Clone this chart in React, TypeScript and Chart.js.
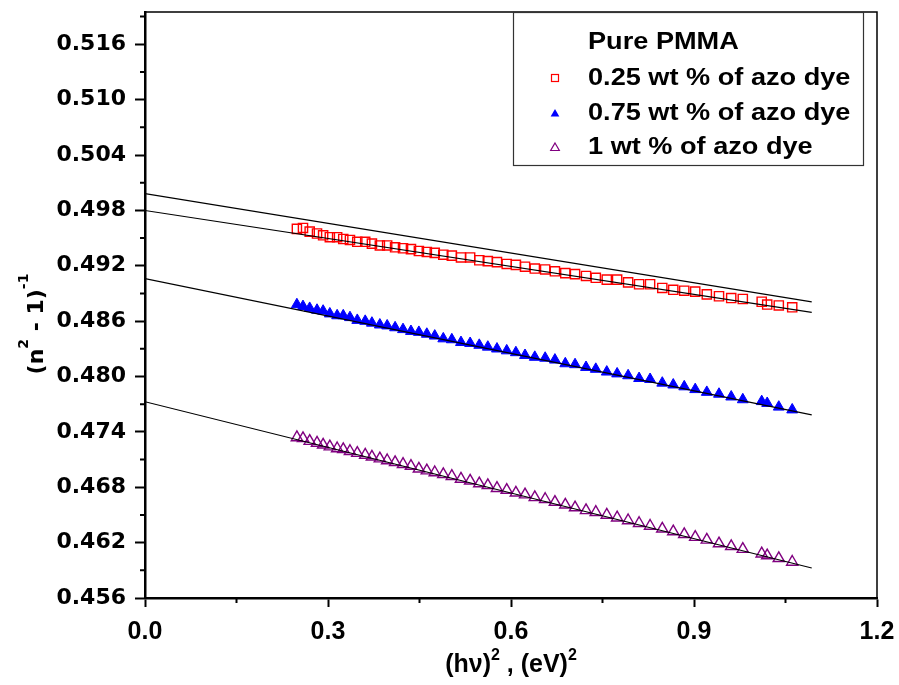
import { useEffect, useRef } from "react";
import { Chart, registerables } from "chart.js";

Chart.register(...registerables);

// Photon energy squared, (hv)^2 in eV^2 (shared by all samples)
const X_VALUES = [
  0.249, 0.259, 0.270, 0.282, 0.292, 0.303, 0.315, 0.325, 0.336, 0.348,
  0.361, 0.372, 0.385, 0.397, 0.410, 0.423, 0.436, 0.449, 0.462, 0.475,
  0.489, 0.503, 0.518, 0.533, 0.548, 0.562, 0.577, 0.593, 0.608, 0.623,
  0.639, 0.656, 0.672, 0.689, 0.705, 0.723, 0.739, 0.757, 0.774, 0.792,
  0.810, 0.828, 0.848, 0.866, 0.884, 0.902, 0.921, 0.941, 0.961, 0.980,
  1.011, 1.020, 1.039, 1.061,
];

const Y_025 = [
  0.4960, 0.4961, 0.4957, 0.4955, 0.4953, 0.4951, 0.4951, 0.4949, 0.4948, 0.4946,
  0.4946, 0.4944, 0.4942, 0.4942, 0.4940, 0.4939, 0.4938, 0.4936, 0.4935, 0.4934,
  0.4932, 0.4931, 0.4929, 0.4929, 0.4926, 0.4925, 0.4924, 0.4922, 0.4921, 0.4919,
  0.4917, 0.4916, 0.4914, 0.4912, 0.4911, 0.4909, 0.4907, 0.4905, 0.4905, 0.4902,
  0.4900, 0.4900, 0.4896, 0.4894, 0.4893, 0.4892, 0.4889, 0.4887, 0.4885, 0.4884,
  0.4881, 0.4878, 0.4877, 0.4875,
];

const Y_075 = [
  0.4878, 0.4876, 0.4874, 0.4872, 0.4871, 0.4868, 0.4866, 0.4866, 0.4864, 0.4861,
  0.4860, 0.4858, 0.4856, 0.4855, 0.4853, 0.4851, 0.4849, 0.4848, 0.4846, 0.4844,
  0.4841, 0.4840, 0.4837, 0.4836, 0.4834, 0.4832, 0.4830, 0.4828, 0.4826, 0.4823,
  0.4821, 0.4820, 0.4818, 0.4814, 0.4813, 0.4810, 0.4808, 0.4805, 0.4803, 0.4801,
  0.4798, 0.4797, 0.4793, 0.4791, 0.4789, 0.4786, 0.4783, 0.4781, 0.4778, 0.4775,
  0.4773, 0.4771, 0.4767, 0.4764,
];

const Y_1 = [
  0.4734, 0.4733, 0.4730, 0.4728, 0.4726, 0.4724, 0.4722, 0.4721, 0.4719, 0.4717,
  0.4715, 0.4713, 0.4711, 0.4709, 0.4707, 0.4705, 0.4703, 0.4700, 0.4698, 0.4696,
  0.4694, 0.4692, 0.4689, 0.4687, 0.4684, 0.4682, 0.4679, 0.4677, 0.4674, 0.4672,
  0.4669, 0.4667, 0.4664, 0.4661, 0.4658, 0.4655, 0.4653, 0.4650, 0.4647, 0.4644,
  0.4641, 0.4638, 0.4635, 0.4632, 0.4629, 0.4626, 0.4623, 0.4619, 0.4616, 0.4613,
  0.4608, 0.4606, 0.4603, 0.4599,
];

// Linear fits (end points)
const FIT_X = [0, 1.093];
const FIT_PURE = [0.49983, 0.48808];
const FIT_025 = [0.49799, 0.48695];
const FIT_075 = [0.49061, 0.47585];
const FIT_1 = [0.47727, 0.45925];

const X_TICKS = [0, 0.3, 0.6, 0.9, 1.2];
const X_TICK_LABELS = ["0.0", "0.3", "0.6", "0.9", "1.2"];
const X_MINOR = [0.15, 0.45, 0.75, 1.05];
const Y_TICKS = [0.456, 0.462, 0.468, 0.474, 0.48, 0.486, 0.492, 0.498, 0.504, 0.51, 0.516];
const Y_TICK_LABELS = ["0.456", "0.462", "0.468", "0.474", "0.480", "0.486", "0.492", "0.498", "0.504", "0.510", "0.516"];
const Y_MINOR = [0.459, 0.465, 0.471, 0.477, 0.483, 0.489, 0.495, 0.501, 0.507, 0.513, 0.519];

const LEGEND_LABELS = ["Pure PMMA", "0.25 wt % of azo dye", "0.75 wt % of azo dye", "1 wt % of azo dye"];
const X_TITLE = [{ t: "(h\u03BD)" }, { t: "2", sup: true }, { t: " , (eV)" }, { t: "2", sup: true }];
const Y_TITLE = [{ t: "(n" }, { t: "2", sup: true }, { t: " - 1)" }, { t: "-1", sup: true }];

const RED = "#FF0000";
const BLUE = "#0000FF";
const PURPLE = "#800080";

function drawRich(ctx: CanvasRenderingContext2D, parts: { t: string; sup?: boolean }[], cx: number, baseY: number, size: number, family: string, supRaise: number) {
  const mainFont = `bold ${size}px ${family}`;
  const supFont = `bold ${Math.round(size * 0.62)}px ${family}`;
  let total = 0;
  for (const p of parts) {
    ctx.font = p.sup ? supFont : mainFont;
    total += ctx.measureText(p.t).width;
  }
  let x = cx - total / 2;
  ctx.textAlign = "left";
  ctx.textBaseline = "alphabetic";
  for (const p of parts) {
    ctx.font = p.sup ? supFont : mainFont;
    ctx.fillText(p.t, x, p.sup ? baseY - supRaise : baseY);
    x += ctx.measureText(p.t).width;
  }
}

function triangle(ctx: CanvasRenderingContext2D, x: number, y: number, r: number) {
  const h = r * Math.sin(Math.PI / 3);
  ctx.beginPath();
  ctx.moveTo(x, y - r);
  ctx.lineTo(x + h, y + r / 2);
  ctx.lineTo(x - h, y + r / 2);
  ctx.closePath();
}

const decorPlugin = {
  id: "decor",
  afterDraw(chart: any) {
    const { ctx, chartArea: a, scales } = chart;
    const xs = scales.x;
    const ys = scales.y;
    ctx.save();
    ctx.strokeStyle = "#000";
    ctx.fillStyle = "#000";
    // top / right frame
    ctx.lineWidth = 1.5;
    ctx.beginPath();
    ctx.moveTo(a.left, a.top);
    ctx.lineTo(a.right, a.top);
    ctx.lineTo(a.right, a.bottom);
    ctx.stroke();
    // minor ticks
    ctx.lineWidth = 2;
    ctx.beginPath();
    for (const v of X_MINOR) {
      const px = xs.getPixelForValue(v);
      ctx.moveTo(px, a.bottom);
      ctx.lineTo(px, a.bottom + 5);
    }
    for (const v of Y_MINOR) {
      const py = ys.getPixelForValue(v);
      ctx.moveTo(a.left, py);
      ctx.lineTo(a.left - 5, py);
    }
    ctx.stroke();

    // axis titles
    drawRich(ctx, X_TITLE, (a.left + a.right) / 2, 672, 25, "'Liberation Sans', Arial, sans-serif", 12);
    ctx.save();
    ctx.translate(43, 324);
    ctx.rotate(-Math.PI / 2);
    drawRich(ctx, Y_TITLE, 0, 0, 22, "'DejaVu Sans', sans-serif", 15);
    ctx.restore();

    // legend
    ctx.lineWidth = 1.2;
    ctx.strokeStyle = "#333";
    ctx.strokeRect(513.5, 12.5, 350, 153);
    const rowsY = [42, 78, 113, 147];
    ctx.textAlign = "left";
    ctx.textBaseline = "middle";
    ctx.font = "bold 23px 'Liberation Sans', Arial, sans-serif";
    for (let i = 0; i < LEGEND_LABELS.length; i++) {
      ctx.save();
      ctx.translate(588, rowsY[i] + 1);
      ctx.scale(1.18, 1);
      ctx.fillStyle = "#000";
      ctx.fillText(LEGEND_LABELS[i], 0, 0);
      ctx.restore();
    }
    const mx = 555;
    ctx.lineWidth = 1.2;
    ctx.strokeStyle = RED;
    ctx.strokeRect(mx - 3.5, rowsY[1] - 3.5, 7, 7);
    ctx.fillStyle = BLUE;
    triangle(ctx, mx, rowsY[2] + 1, 5);
    ctx.fill();
    ctx.strokeStyle = PURPLE;
    triangle(ctx, mx, rowsY[3] + 1, 5);
    ctx.stroke();
    ctx.restore();
  },
};

function pts(xs: number[], ys: number[]) {
  return xs.map((x, i) => ({ x, y: ys[i] }));
}

export default function App() {
  const ref = useRef<HTMLCanvasElement | null>(null);
  useEffect(() => {
    document.body.style.margin = "0";
    const canvas = ref.current;
    if (!canvas) return;
    const fitStyle = {
      showLine: true,
      pointRadius: 0,
      borderColor: "#000",
      borderWidth: 1.2,
      backgroundColor: "#000",
    };
    const chart = new Chart(canvas, {
      type: "scatter",
      data: {
        datasets: [
          { label: "Pure PMMA", data: pts(FIT_X, FIT_PURE), ...fitStyle },
          { label: "fit 0.25", data: pts(FIT_X, FIT_025), ...fitStyle },
          { label: "fit 0.75", data: pts(FIT_X, FIT_075), ...fitStyle },
          { label: "fit 1", data: pts(FIT_X, FIT_1), ...fitStyle },
          {
            label: LEGEND_LABELS[1],
            data: pts(X_VALUES, Y_025),
            pointStyle: "rect",
            pointRadius: 6.5,
            borderColor: RED,
            backgroundColor: "rgba(0,0,0,0)",
            borderWidth: 1.4,
          },
          {
            label: LEGEND_LABELS[2],
            data: pts(X_VALUES, Y_075),
            pointStyle: "triangle",
            pointRadius: 6.3,
            borderColor: BLUE,
            backgroundColor: BLUE,
            borderWidth: 1,
          },
          {
            label: LEGEND_LABELS[3],
            data: pts(X_VALUES, Y_1),
            pointStyle: "triangle",
            pointRadius: 6.5,
            borderColor: PURPLE,
            backgroundColor: "rgba(0,0,0,0)",
            borderWidth: 1.4,
          },
        ],
      },
      options: {
        responsive: false,
        animation: false,
        devicePixelRatio: 1,
        events: [],
        layout: { padding: { top: 12, right: 22, left: 0, bottom: 0 } },
        plugins: { legend: { display: false }, tooltip: { enabled: false } },
        scales: {
          x: {
            type: "linear",
            min: 0,
            max: 1.2,
            afterBuildTicks: (s: any) => {
              s.ticks = X_TICKS.map((value) => ({ value }));
            },
            afterFit: (s: any) => {
              s.height = 87;
              s.paddingLeft = 0;
              s.paddingRight = 0;
            },
            ticks: {
              autoSkip: false,
              maxRotation: 0,
              padding: 10,
              color: "#000",
              font: { family: "'Liberation Sans', Arial, sans-serif", size: 25, weight: "bold" },
              callback: (_v: any, i: number) => X_TICK_LABELS[i],
            },
            grid: { drawOnChartArea: false, drawTicks: true, tickLength: 9, tickWidth: 2, tickColor: "#000" },
            border: { display: true, color: "#000", width: 2.5 },
          },
          y: {
            type: "linear",
            min: 0.456,
            max: 0.5195,
            afterBuildTicks: (s: any) => {
              s.ticks = Y_TICKS.map((value) => ({ value }));
            },
            afterFit: (s: any) => {
              s.width = 145;
              s.paddingTop = 0;
              s.paddingBottom = 0;
            },
            ticks: {
              autoSkip: false,
              padding: 9,
              color: "#000",
              font: { family: "'DejaVu Sans', sans-serif", size: 22, weight: "bold" },
              callback: (_v: any, i: number) => Y_TICK_LABELS[i],
            },
            grid: { drawOnChartArea: false, drawTicks: true, tickLength: 10, tickWidth: 2, tickColor: "#000" },
            border: { display: true, color: "#000", width: 2.5 },
          },
        },
      },
      plugins: [decorPlugin],
    } as any);
    return () => chart.destroy();
  }, []);
  return (
    <div style={{ width: 899, height: 685 }}>
      <canvas ref={ref} width={899} height={685} style={{ display: "block" }} />
    </div>
  );
}
